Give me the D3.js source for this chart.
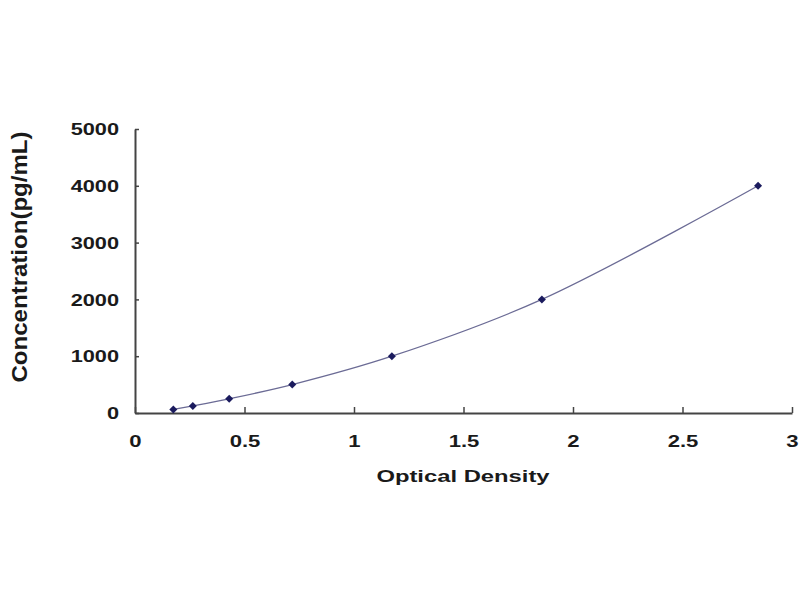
<!DOCTYPE html>
<html>
<head>
<meta charset="utf-8">
<script src="https://cdn.jsdelivr.net/npm/d3@7"></script>
<style>
  body { margin: 0; background: #fff; }
  text { font-family: "Liberation Sans", Arial, sans-serif; font-weight: bold; fill: #1a1a1a; }
</style>
</head>
<body>
<div id="container"></div>
<script>
// standard curve readings
var od   = [0.175, 0.264, 0.43, 0.718, 1.173, 1.858, 2.845];
var conc = [62.5, 125, 250, 500, 1000, 2000, 4000];
var xTicks = [0, 0.5, 1, 1.5, 2, 2.5, 3];
var yTicks = [0, 1000, 2000, 3000, 4000, 5000];

var width = 800, height = 600;
var plotLeft = 135, plotRight = 792, plotTop = 129, plotBottom = 413;

var svg = d3.select("#container").append("svg")
    .attr("width", width)
    .attr("height", height);

var x = d3.scaleLinear().domain([0, 3]).range([plotLeft, plotRight]);
var y = d3.scaleLinear().domain([0, 5000]).range([plotBottom, plotTop]);

// x axis, ticks pointing inwards
var gx = svg.append("g")
    .attr("transform", "translate(0," + plotBottom + ")")
    .call(d3.axisBottom(x).tickValues(xTicks).tickSize(-6).tickSizeOuter(0).tickFormat(d3.format("")));
gx.select(".domain").attr("stroke", "#444").attr("stroke-width", 2);
gx.selectAll(".tick line").attr("stroke", "#444").attr("stroke-width", 1.5);
gx.selectAll(".tick text")
    .attr("y", 0).attr("dy", 0)
    .attr("transform", "translate(0,34) scale(1.38,1)")
    .style("font-size", "16px");

// y axis
var gy = svg.append("g")
    .attr("transform", "translate(" + plotLeft + ",0)")
    .call(d3.axisLeft(y).tickValues(yTicks).tickSize(-4).tickSizeOuter(0).tickFormat(d3.format("")));
gy.select(".domain").attr("stroke", "#444").attr("stroke-width", 2);
gy.selectAll(".tick line").attr("stroke", "#444").attr("stroke-width", 1.5);
gy.selectAll(".tick text")
    .attr("x", 0).attr("dy", "0.36em")
    .attr("transform", "translate(-16,0) scale(1.36,1)")
    .style("font-size", "16px");
svg.selectAll(".tick text").attr("fill", "#1a1a1a");

// curve + points
var line = d3.line()
    .x(function(d, i) { return x(od[i]); })
    .y(function(d) { return y(d); })
    .curve(d3.curveCatmullRom);

svg.append("path")
    .datum(conc)
    .attr("d", line)
    .attr("fill", "none")
    .attr("stroke", "#6b6b95")
    .attr("stroke-width", 1.3);

// diamonds = squares turned 45deg
svg.selectAll(".pt")
    .data(conc)
  .enter().append("path")
    .attr("class", "pt")
    .attr("transform", function(d, i) { return "translate(" + x(od[i]) + "," + y(d) + ") rotate(45)"; })
    .attr("d", d3.symbol().type(d3.symbolSquare).size(32))
    .attr("fill", "#1b1b5e");

// titles
svg.append("text")
    .attr("transform", "translate(463,482) scale(1.4,1)")
    .attr("text-anchor", "middle")
    .style("font-size", "17px")
    .text("Optical Density");

svg.append("text")
    .attr("transform", "translate(27,257) scale(1.35,1) rotate(-90)")
    .attr("text-anchor", "middle")
    .attr("textLength", 251)
    .attr("lengthAdjust", "spacingAndGlyphs")
    .style("font-size", "16px")
    .text("Concentration(pg/mL)");
</script>
</body>
</html>
